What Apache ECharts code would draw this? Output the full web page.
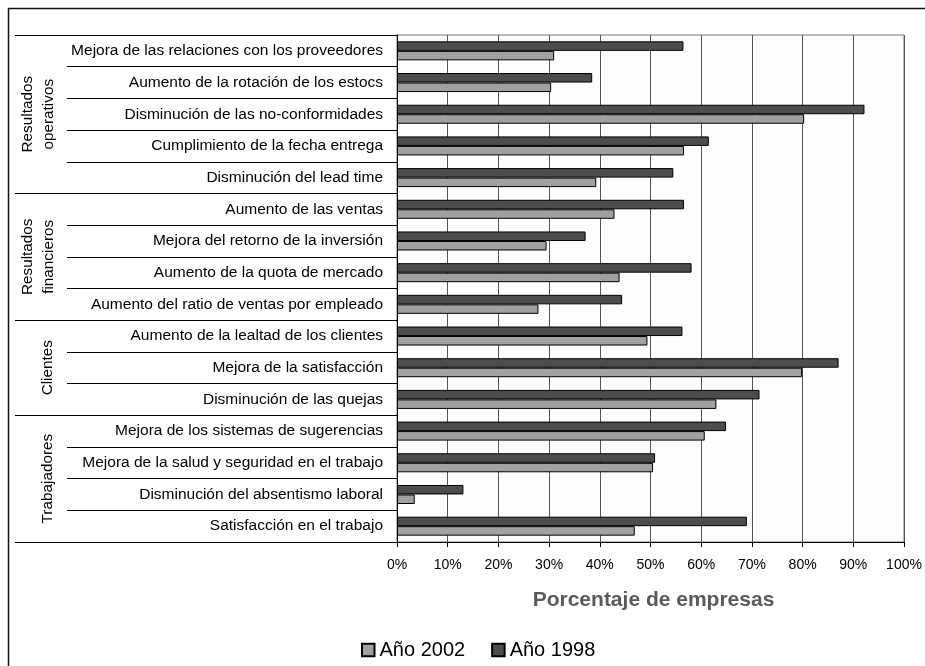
<!DOCTYPE html>
<html>
<head>
<meta charset="utf-8">
<script src="https://cdn.jsdelivr.net/npm/echarts@6/dist/echarts.min.js"></script>
<style>
html,body{margin:0;padding:0;background:#fff;}
#main{width:925px;height:666px;}
</style>
</head>
<body>
<div id="main"></div>
<script>
const categories = [
  'Mejora de las relaciones con los proveedores',
  'Aumento de la rotación de los estocs',
  'Disminución de las no-conformidades',
  'Cumplimiento de la fecha entrega',
  'Disminución del lead time',
  'Aumento de las ventas',
  'Mejora del retorno de la inversión',
  'Aumento de la quota de mercado',
  'Aumento del ratio de ventas por empleado',
  'Aumento de la lealtad de los clientes',
  'Mejora de la satisfacción',
  'Disminución de las quejas',
  'Mejora de los sistemas de sugerencias',
  'Mejora de la salud y seguridad en el trabajo',
  'Disminución del absentismo laboral',
  'Satisfacción en el trabajo'
];
const values1998 = [56.5, 38.5, 92.2, 61.5, 54.5, 56.6, 37.2, 58.1, 44.4, 56.3, 87.1, 71.5, 64.9, 50.9, 13.1, 69.0];
const values2002 = [31.0, 30.4, 80.3, 56.6, 39.3, 42.9, 29.5, 43.9, 27.9, 49.4, 79.9, 63.0, 60.7, 50.5, 3.5, 46.9];
const groupNames = ['Resultados\noperativos', 'Resultados\nfinancieros', 'Clientes', 'Trabajadores'];
const groupSizes = [5, 4, 3, 4];
const xTicks = [0, 100, 10];

const FONT = "'Liberation Sans', Arial, sans-serif";
const chart = echarts.init(document.getElementById('main'));
const option = {
  animation: false,
  backgroundColor: '#fff',
  grid: { left: 397, top: 35, right: 21, bottom: 124, show: true, borderColor: '#777', borderWidth: 1, backgroundColor: '#fdfdfd' },
  legend: {
    data: ['Año 2002', 'Año 1998'],
    left: 356, top: 635,
    icon: 'rect', itemWidth: 12.5, itemHeight: 12.5, itemGap: 26,
    textStyle: { fontFamily: FONT, fontSize: 20, color: '#000' }
  },
  xAxis: {
    type: 'value', min: xTicks[0], max: xTicks[1], interval: xTicks[2],
    name: 'Porcentaje de empresas', nameLocation: 'middle', nameGap: 48,
    nameTextStyle: { fontFamily: FONT, fontSize: 21, fontWeight: 'bold', color: '#5a5a5a', padding: [0, 0, 0, 6] },
    axisLine: { show: true, lineStyle: { color: '#000', width: 1 } },
    axisTick: { show: true, length: 5, lineStyle: { color: '#000' } },
    axisLabel: { formatter: '{value}%', fontFamily: FONT, fontSize: 14, color: '#000', margin: 16 },
    splitLine: { show: true, lineStyle: { color: '#555', width: 1 } }
  },
  yAxis: {
    type: 'category', data: categories, inverse: true,
    axisLine: { show: true, lineStyle: { color: '#000', width: 1 } },
    axisTick: { show: true, length: 330, lineStyle: { color: '#000', width: 1 } },
    axisLabel: { fontFamily: FONT, fontSize: 15.5, color: '#000', margin: 14 },
    splitLine: { show: false }
  },
  series: [
    {
      name: 'Año 1998', type: 'bar', data: values1998,
      barWidth: 9.5, barGap: '0%',
      itemStyle: { color: '#4d4d4d', borderColor: '#000', borderWidth: 1 }
    },
    {
      name: 'Año 2002', type: 'bar', data: values2002,
      barWidth: 9.5, barGap: '0%',
      itemStyle: { color: '#a0a0a0', borderColor: '#000', borderWidth: 1 }
    }
  ]
};
chart.setOption(option);

// group separators and labels derived from the category axis
const y0 = chart.convertToPixel({ yAxisIndex: 0 }, categories[0]);
const y1 = chart.convertToPixel({ yAxisIndex: 0 }, categories[1]);
const band = y1 - y0;
const axisX = chart.convertToPixel({ xAxisIndex: 0 }, 0);
const graphics = [
  { type: 'rect', shape: { x: 8.5, y: 8.5, width: 930, height: 700 }, style: { fill: null, stroke: '#111', lineWidth: 1.5 }, silent: true }
];
let start = 0;
groupNames.forEach((g, gi) => {
  const top = y0 - band / 2 + start * band;
  const bottom = top + groupSizes[gi] * band;
  graphics.push({ type: 'line', shape: { x1: 15, y1: Math.round(top) + 0.5, x2: axisX, y2: Math.round(top) + 0.5 }, style: { stroke: '#000', lineWidth: 1 } });
  if (gi === groupNames.length - 1) {
    graphics.push({ type: 'line', shape: { x1: 15, y1: Math.round(bottom) + 0.5, x2: axisX, y2: Math.round(bottom) + 0.5 }, style: { stroke: '#000', lineWidth: 1 } });
  }
  const twoLines = g.indexOf('\n') >= 0;
  graphics.push({
    type: 'text', x: twoLines ? 38.5 : 48, y: (top + bottom) / 2, rotation: Math.PI / 2,
    style: { text: g, font: '15.3px ' + FONT, fill: '#000', align: 'center', verticalAlign: 'middle', lineHeight: 21 }
  });
  start += groupSizes[gi];
});
chart.setOption({ graphic: graphics });
</script>
</body>
</html>
